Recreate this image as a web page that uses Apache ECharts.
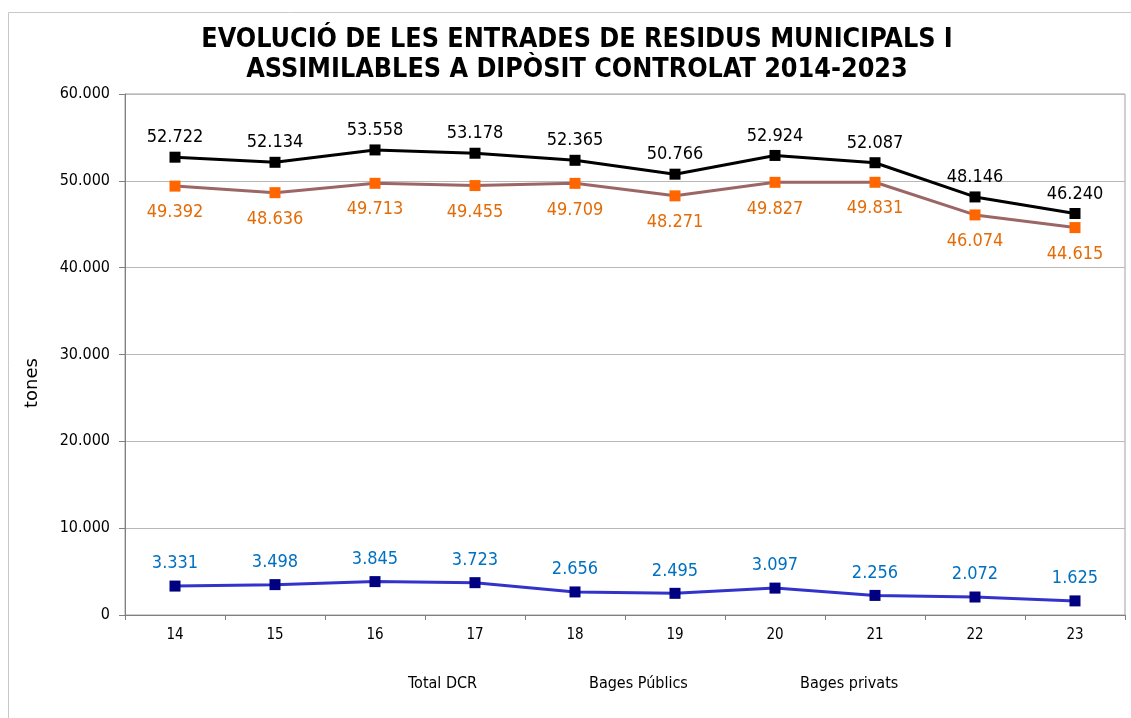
<!DOCTYPE html>
<html>
<head>
<meta charset="utf-8">
<script src="https://cdn.jsdelivr.net/npm/echarts@6/dist/echarts.min.js"></script>
<style>
  html, body { margin: 0; padding: 0; background: #fff; }
  #main { width: 1131px; height: 718px; }
</style>
</head>
<body>
<div id="main"></div>
<script>
var years = ['14', '15', '16', '17', '18', '19', '20', '21', '22', '23'];
var totalDCR = [52722, 52134, 53558, 53178, 52365, 50766, 52924, 52087, 48146, 46240];
var bagesPublics = [49392, 48636, 49713, 49455, 49709, 48271, 49827, 49831, 46074, 44615];
var bagesPrivats = [3331, 3498, 3845, 3723, 2656, 2495, 3097, 2256, 2072, 1625];

function fmt(v) {
  return String(v).replace(/\B(?=(\d{3})+(?!\d))/g, '.');
}

var myChart = echarts.init(document.getElementById('main'));

var font = 'DejaVu Sans Condensed';

// legend items sit on their own, text only
function legendAt(name, left) {
  return {
    data: [name],
    left: left,
    top: 671,
    itemWidth: 0,
    itemHeight: 0,
    itemGap: 0,
    icon: 'rect',
    textStyle: { fontFamily: font, fontSize: 16, color: '#000' }
  };
}

var option = {
  backgroundColor: '#fff',
  title: {
    text: 'EVOLUCIÓ DE LES ENTRADES DE RESIDUS MUNICIPALS I\nASSIMILABLES A DIPÒSIT CONTROLAT 2014-2023',
    left: 572,
    top: 20,
    textAlign: 'center',
    textStyle: {
      fontFamily: 'DejaVu Sans Condensed',
      fontWeight: 'bold',
      fontSize: 26.7,
      lineHeight: 30,
      color: '#000'
    }
  },
  legend: [
    legendAt('Total DCR', 398),
    legendAt('Bages Públics', 579),
    legendAt('Bages privats', 790)
  ],
  grid: { left: 125, right: 6, top: 94, bottom: 103 },
  xAxis: {
    type: 'category',
    data: years,
    boundaryGap: true,
    axisLine: { lineStyle: { color: '#808080', width: 1 } },
    axisTick: { show: true, alignWithLabel: false, length: 5, lineStyle: { color: '#808080' } },
    axisLabel: { fontFamily: font, fontSize: 15, color: '#000', margin: 13 }
  },
  yAxis: {
    type: 'value',
    min: 0,
    max: 60000,
    interval: 10000,
    axisLine: { show: true, lineStyle: { color: '#808080' } },
    axisTick: { show: true, length: 6, lineStyle: { color: '#808080' } },
    axisLabel: {
      fontFamily: font, fontSize: 16, color: '#000', margin: 15,
      formatter: function (v) { return fmt(v); }
    },
    splitLine: { lineStyle: { color: '#b8b8b8', width: 1 } }
  },
  series: [
    {
      name: 'Total DCR',
      type: 'line',
      data: totalDCR,
      symbol: 'rect',
      symbolSize: 11,
      color: '#000',
      lineStyle: { color: '#000', width: 3 },
      itemStyle: { color: '#000' },
      label: {
        show: true, position: 'top', distance: 5,
        fontFamily: font, fontSize: 18, color: '#000',
        formatter: function (p) { return fmt(p.value); }
      },
      z: 3
    },
    {
      name: 'Bages Públics',
      type: 'line',
      data: bagesPublics,
      symbol: 'rect',
      symbolSize: 11,
      color: '#ff6600',
      lineStyle: { color: '#9c6666', width: 3 },
      itemStyle: { color: '#ff6600' },
      label: {
        show: true, position: 'bottom', distance: 12,
        fontFamily: font, fontSize: 18, color: '#e36c09',
        formatter: function (p) { return fmt(p.value); }
      },
      z: 2
    },
    {
      name: 'Bages privats',
      type: 'line',
      data: bagesPrivats,
      symbol: 'rect',
      symbolSize: 11,
      color: '#000080',
      lineStyle: { color: '#3333cc', width: 3 },
      itemStyle: { color: '#000080' },
      label: {
        show: true, position: 'top', distance: 8,
        fontFamily: font, fontSize: 18, color: '#0070c0',
        formatter: function (p) { return fmt(p.value); }
      },
      z: 2
    }
  ],
  graphic: [
    {
      type: 'rect',
      shape: { x: 125, y: 94, width: 1000, height: 521 },
      style: { fill: 'none', stroke: '#a0a0a0', lineWidth: 1 },
      silent: true,
      z: -1
    },
    {
      type: 'rect',
      shape: { x: 8.5, y: 12.5, width: 1140, height: 720 },
      style: { fill: 'none', stroke: '#c8c8c8', lineWidth: 1 },
      silent: true,
      z: -1
    },
    {
      type: 'text',
      x: 32,
      y: 383,
      rotation: Math.PI / 2,
      style: {
        text: 'tones',
        fontFamily: 'DejaVu Sans',
        fontSize: 18,
        fill: '#000',
        align: 'center',
        verticalAlign: 'middle'
      }
    }
  ],
  animation: false
};

myChart.setOption(option);
</script>
</body>
</html>
